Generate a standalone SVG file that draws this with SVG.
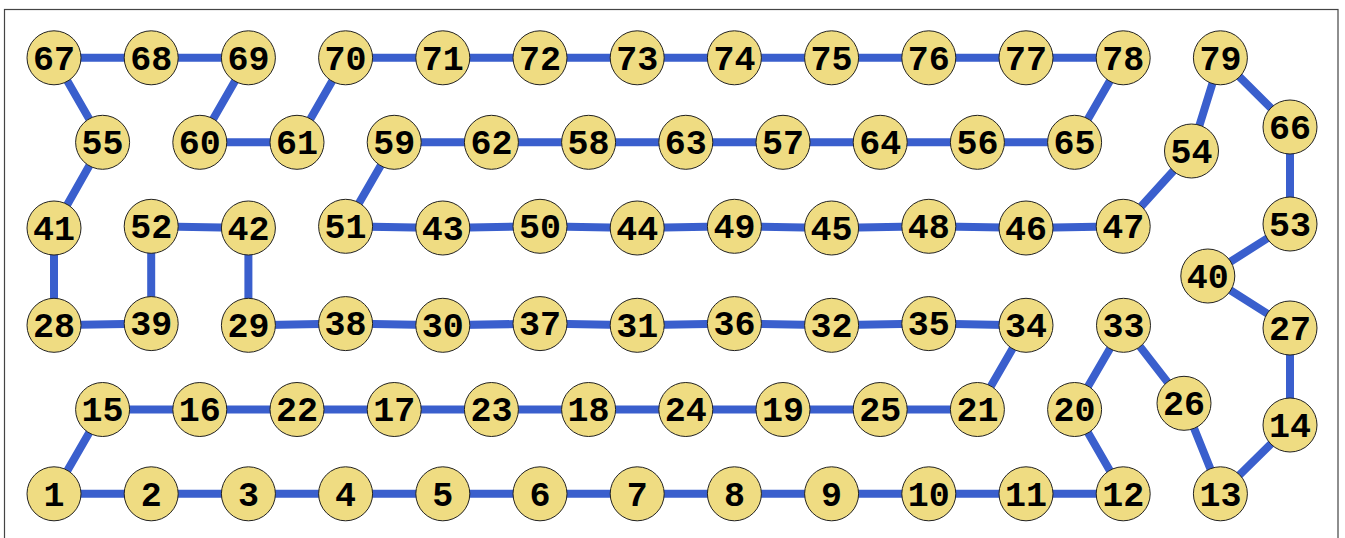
<svg xmlns="http://www.w3.org/2000/svg" width="1345" height="538" viewBox="0 0 1345 538">
<style>
.e{stroke:#3a5fcd;stroke-width:8;fill:none;stroke-linecap:butt}
.n use{fill:#efdc82;stroke:#222;stroke-width:1}
.n text{font-family:"Liberation Mono","Courier New",monospace;font-weight:bold;font-size:35px;text-anchor:middle;fill:#000}
</style>
<rect x="4.5" y="9.5" width="1333.5" height="540" fill="#fff" stroke="#444" stroke-width="1.2"/>
<defs><circle id="c" r="27"/></defs>
<g id="connectors">
<polyline class="e" points="54,493.8 151.2,493.8 248.4,493.8 345.6,493.8 442.8,493.8 540,493.8 637.2,493.8 734.4,493.8 831.6,493.8 928.8,493.8 1026,493.8 1123.2,493.8 1074.6,409.5 1123.5,325.3 1184,403.3 1220.4,493.8 1290,425 1290,328 1207.8,276 1290,224 1290,127 1220.4,57.8 1191.5,151 1123.2,226.3 1026,228 928.8,226.3 831.6,228 734.4,226.3 637.2,228 540,226.3 442.8,228 345.6,226.3 394.2,142.3 491.4,142.3 588.6,142.3 685.8,142.3 783,142.3 880.2,142.3 977.4,142.3 1074.6,142.3 1123.2,57.8 1026,57.8 928.8,57.8 831.6,57.8 734.4,57.8 637.2,57.8 540,57.8 442.8,57.8 345.6,57.8 297,142.3 199.8,142.3 248.4,57.8 151.2,57.8 54,57.8 102.6,142.3 54,228 54,325.3 151.2,323.6 151.2,226.3 248.4,228 248.4,325.3 345.6,323.6 442.8,325.3 540,323.6 637.2,325.3 734.4,323.6 831.6,325.3 928.8,323.6 1026,325.3 977.4,409.5 880.2,409.5 783,409.5 685.8,409.5 588.6,409.5 491.4,409.5 394.2,409.5 297,409.5 199.8,409.5 102.6,409.5 54,493.8"/>
</g>
<g id="nodes">
<g id="n1" class="n"><use href="#c" x="54" y="493.8"/><text x="54" y="505.5">1</text></g>
<g id="n2" class="n"><use href="#c" x="151.2" y="493.8"/><text x="151.2" y="505.5">2</text></g>
<g id="n3" class="n"><use href="#c" x="248.4" y="493.8"/><text x="248.4" y="505.5">3</text></g>
<g id="n4" class="n"><use href="#c" x="345.6" y="493.8"/><text x="345.6" y="505.5">4</text></g>
<g id="n5" class="n"><use href="#c" x="442.8" y="493.8"/><text x="442.8" y="505.5">5</text></g>
<g id="n6" class="n"><use href="#c" x="540" y="493.8"/><text x="540" y="505.5">6</text></g>
<g id="n7" class="n"><use href="#c" x="637.2" y="493.8"/><text x="637.2" y="505.5">7</text></g>
<g id="n8" class="n"><use href="#c" x="734.4" y="493.8"/><text x="734.4" y="505.5">8</text></g>
<g id="n9" class="n"><use href="#c" x="831.6" y="493.8"/><text x="831.6" y="505.5">9</text></g>
<g id="n10" class="n"><use href="#c" x="928.8" y="493.8"/><text x="928.8" y="505.5">10</text></g>
<g id="n11" class="n"><use href="#c" x="1026" y="493.8"/><text x="1026" y="505.5">11</text></g>
<g id="n12" class="n"><use href="#c" x="1123.2" y="493.8"/><text x="1123.2" y="505.5">12</text></g>
<g id="n13" class="n"><use href="#c" x="1220.4" y="493.8"/><text x="1220.4" y="505.5">13</text></g>
<g id="n14" class="n"><use href="#c" x="1290" y="425"/><text x="1290" y="436.7">14</text></g>
<g id="n15" class="n"><use href="#c" x="102.6" y="409.5"/><text x="102.6" y="421.2">15</text></g>
<g id="n16" class="n"><use href="#c" x="199.8" y="409.5"/><text x="199.8" y="421.2">16</text></g>
<g id="n22" class="n"><use href="#c" x="297" y="409.5"/><text x="297" y="421.2">22</text></g>
<g id="n17" class="n"><use href="#c" x="394.2" y="409.5"/><text x="394.2" y="421.2">17</text></g>
<g id="n23" class="n"><use href="#c" x="491.4" y="409.5"/><text x="491.4" y="421.2">23</text></g>
<g id="n18" class="n"><use href="#c" x="588.6" y="409.5"/><text x="588.6" y="421.2">18</text></g>
<g id="n24" class="n"><use href="#c" x="685.8" y="409.5"/><text x="685.8" y="421.2">24</text></g>
<g id="n19" class="n"><use href="#c" x="783" y="409.5"/><text x="783" y="421.2">19</text></g>
<g id="n25" class="n"><use href="#c" x="880.2" y="409.5"/><text x="880.2" y="421.2">25</text></g>
<g id="n21" class="n"><use href="#c" x="977.4" y="409.5"/><text x="977.4" y="421.2">21</text></g>
<g id="n20" class="n"><use href="#c" x="1074.6" y="409.5"/><text x="1074.6" y="421.2">20</text></g>
<g id="n26" class="n"><use href="#c" x="1184" y="403.3"/><text x="1184" y="415">26</text></g>
<g id="n28" class="n"><use href="#c" x="54" y="325.3"/><text x="54" y="337">28</text></g>
<g id="n39" class="n"><use href="#c" x="151.2" y="323.6"/><text x="151.2" y="335.3">39</text></g>
<g id="n29" class="n"><use href="#c" x="248.4" y="325.3"/><text x="248.4" y="337">29</text></g>
<g id="n38" class="n"><use href="#c" x="345.6" y="323.6"/><text x="345.6" y="335.3">38</text></g>
<g id="n30" class="n"><use href="#c" x="442.8" y="325.3"/><text x="442.8" y="337">30</text></g>
<g id="n37" class="n"><use href="#c" x="540" y="323.6"/><text x="540" y="335.3">37</text></g>
<g id="n31" class="n"><use href="#c" x="637.2" y="325.3"/><text x="637.2" y="337">31</text></g>
<g id="n36" class="n"><use href="#c" x="734.4" y="323.6"/><text x="734.4" y="335.3">36</text></g>
<g id="n32" class="n"><use href="#c" x="831.6" y="325.3"/><text x="831.6" y="337">32</text></g>
<g id="n35" class="n"><use href="#c" x="928.8" y="323.6"/><text x="928.8" y="335.3">35</text></g>
<g id="n34" class="n"><use href="#c" x="1026" y="325.3"/><text x="1026" y="337">34</text></g>
<g id="n33" class="n"><use href="#c" x="1123.5" y="325.3"/><text x="1123.5" y="337">33</text></g>
<g id="n27" class="n"><use href="#c" x="1290" y="328"/><text x="1290" y="339.7">27</text></g>
<g id="n40" class="n"><use href="#c" x="1207.8" y="276"/><text x="1207.8" y="287.7">40</text></g>
<g id="n41" class="n"><use href="#c" x="54" y="228"/><text x="54" y="239.7">41</text></g>
<g id="n52" class="n"><use href="#c" x="151.2" y="226.3"/><text x="151.2" y="238">52</text></g>
<g id="n42" class="n"><use href="#c" x="248.4" y="228"/><text x="248.4" y="239.7">42</text></g>
<g id="n51" class="n"><use href="#c" x="345.6" y="226.3"/><text x="345.6" y="238">51</text></g>
<g id="n43" class="n"><use href="#c" x="442.8" y="228"/><text x="442.8" y="239.7">43</text></g>
<g id="n50" class="n"><use href="#c" x="540" y="226.3"/><text x="540" y="238">50</text></g>
<g id="n44" class="n"><use href="#c" x="637.2" y="228"/><text x="637.2" y="239.7">44</text></g>
<g id="n49" class="n"><use href="#c" x="734.4" y="226.3"/><text x="734.4" y="238">49</text></g>
<g id="n45" class="n"><use href="#c" x="831.6" y="228"/><text x="831.6" y="239.7">45</text></g>
<g id="n48" class="n"><use href="#c" x="928.8" y="226.3"/><text x="928.8" y="238">48</text></g>
<g id="n46" class="n"><use href="#c" x="1026" y="228"/><text x="1026" y="239.7">46</text></g>
<g id="n47" class="n"><use href="#c" x="1123.2" y="226.3"/><text x="1123.2" y="238">47</text></g>
<g id="n53" class="n"><use href="#c" x="1290" y="224"/><text x="1290" y="235.7">53</text></g>
<g id="n55" class="n"><use href="#c" x="102.6" y="142.3"/><text x="102.6" y="154">55</text></g>
<g id="n60" class="n"><use href="#c" x="199.8" y="142.3"/><text x="199.8" y="154">60</text></g>
<g id="n61" class="n"><use href="#c" x="297" y="142.3"/><text x="297" y="154">61</text></g>
<g id="n59" class="n"><use href="#c" x="394.2" y="142.3"/><text x="394.2" y="154">59</text></g>
<g id="n62" class="n"><use href="#c" x="491.4" y="142.3"/><text x="491.4" y="154">62</text></g>
<g id="n58" class="n"><use href="#c" x="588.6" y="142.3"/><text x="588.6" y="154">58</text></g>
<g id="n63" class="n"><use href="#c" x="685.8" y="142.3"/><text x="685.8" y="154">63</text></g>
<g id="n57" class="n"><use href="#c" x="783" y="142.3"/><text x="783" y="154">57</text></g>
<g id="n64" class="n"><use href="#c" x="880.2" y="142.3"/><text x="880.2" y="154">64</text></g>
<g id="n56" class="n"><use href="#c" x="977.4" y="142.3"/><text x="977.4" y="154">56</text></g>
<g id="n65" class="n"><use href="#c" x="1074.6" y="142.3"/><text x="1074.6" y="154">65</text></g>
<g id="n54" class="n"><use href="#c" x="1191.5" y="151"/><text x="1191.5" y="162.7">54</text></g>
<g id="n66" class="n"><use href="#c" x="1290" y="127"/><text x="1290" y="138.7">66</text></g>
<g id="n67" class="n"><use href="#c" x="54" y="57.8"/><text x="54" y="69.5">67</text></g>
<g id="n68" class="n"><use href="#c" x="151.2" y="57.8"/><text x="151.2" y="69.5">68</text></g>
<g id="n69" class="n"><use href="#c" x="248.4" y="57.8"/><text x="248.4" y="69.5">69</text></g>
<g id="n70" class="n"><use href="#c" x="345.6" y="57.8"/><text x="345.6" y="69.5">70</text></g>
<g id="n71" class="n"><use href="#c" x="442.8" y="57.8"/><text x="442.8" y="69.5">71</text></g>
<g id="n72" class="n"><use href="#c" x="540" y="57.8"/><text x="540" y="69.5">72</text></g>
<g id="n73" class="n"><use href="#c" x="637.2" y="57.8"/><text x="637.2" y="69.5">73</text></g>
<g id="n74" class="n"><use href="#c" x="734.4" y="57.8"/><text x="734.4" y="69.5">74</text></g>
<g id="n75" class="n"><use href="#c" x="831.6" y="57.8"/><text x="831.6" y="69.5">75</text></g>
<g id="n76" class="n"><use href="#c" x="928.8" y="57.8"/><text x="928.8" y="69.5">76</text></g>
<g id="n77" class="n"><use href="#c" x="1026" y="57.8"/><text x="1026" y="69.5">77</text></g>
<g id="n78" class="n"><use href="#c" x="1123.2" y="57.8"/><text x="1123.2" y="69.5">78</text></g>
<g id="n79" class="n"><use href="#c" x="1220.4" y="57.8"/><text x="1220.4" y="69.5">79</text></g>
</g>
</svg>
